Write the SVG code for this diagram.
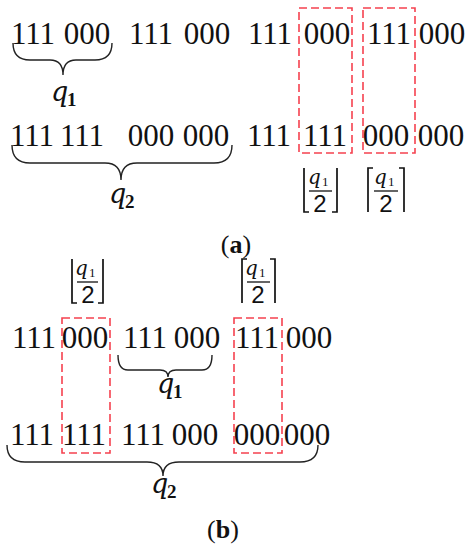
<svg xmlns="http://www.w3.org/2000/svg" width="472" height="550" viewBox="0 0 472 550">
<style>
.d{font-family:"Liberation Serif",serif;font-size:31px;fill:#111;text-anchor:middle}
.q{font-family:"DejaVu Serif","Liberation Serif",serif;font-style:italic;font-size:27px;fill:#111}
.qs{font-family:"Liberation Serif",serif;font-weight:bold;font-size:19px;fill:#111}
.fq{font-family:"DejaVu Serif","Liberation Serif",serif;font-style:italic;font-size:20px;fill:#111}
.fs{font-family:"Liberation Serif",serif;font-size:13px;fill:#111}
.f2{font-family:"Liberation Sans",sans-serif;font-size:24px;fill:#111;text-anchor:middle}
.br{fill:none;stroke:#222;stroke-width:1.4}
.bk{fill:none;stroke:#111;stroke-width:1.7}
.red{fill:none;stroke:#f5414f;stroke-width:1.6;stroke-dasharray:8 4}
.cap{font-family:"Liberation Serif",serif;font-size:26px;fill:#111;text-anchor:middle}
</style>
<g id="part-a">
<g id="a-row1">
<text class="d" x="33" y="44">111</text><text class="d" x="87" y="44">000</text>
<text class="d" x="151" y="44">111</text><text class="d" x="207" y="44">000</text>
<text class="d" x="270" y="44">111</text><text class="d" x="327" y="44">000</text>
<text class="d" x="389" y="44">111</text><text class="d" x="442" y="44">000</text>
</g>
<g id="a-row2">
<text class="d" x="32" y="146">111</text><text class="d" x="82" y="146">111</text>
<text class="d" x="151" y="146">000</text><text class="d" x="206" y="146">000</text>
<text class="d" x="269" y="146">111</text><text class="d" x="325" y="146">111</text>
<text class="d" x="386" y="146">000</text><text class="d" x="441" y="146">000</text>
</g>
<g id="a-boxes">
<rect class="red" x="299" y="8" width="53" height="145"/>
<rect class="red" x="363" y="8" width="52" height="145"/>
</g>
<g id="a-brace-q1">
<path class="br" d="M13,43 Q13,60 30,60 L50,60 Q63,60 63,75 Q63,60 76,60 L95,60 Q112,60 112,43"/>
<text class="q" x="51" y="101">q</text><text class="qs" x="67" y="106">1</text>
</g>
<g id="a-brace-q2">
<path class="br" d="M12,145 Q12,163 30,163 L105,163 Q121,163 121,180 Q121,163 137,163 L214,163 Q232,163 232,145"/>
<text class="q" x="109" y="203">q</text><text class="qs" x="125" y="208">2</text>
</g>
<g id="a-floor">
<path class="bk" d="M304,168 L304,212 L309,212 M337,168 L337,212 L332,212"/>
<text class="fq" x="308" y="184">q</text><text class="fs" x="322" y="186">1</text>
<line x1="309" y1="191" x2="332" y2="191" stroke="#111" stroke-width="1.3"/>
<text class="f2" x="320" y="212">2</text>
</g>
<g id="a-ceil">
<path class="bk" d="M373,168 L368,168 L368,212 M399,168 L404,168 L404,212"/>
<text class="fq" x="374" y="184">q</text><text class="fs" x="388" y="186">1</text>
<line x1="374" y1="191" x2="398" y2="191" stroke="#111" stroke-width="1.3"/>
<text class="f2" x="386" y="212">2</text>
</g>
<text class="cap" x="236" y="253">(<tspan font-weight="bold">a</tspan>)</text>
</g>
<g id="part-b">
<g id="b-floor">
<path class="bk" d="M72,259 L72,303 L77,303 M103,259 L103,303 L98,303"/>
<text class="fq" x="75" y="275">q</text><text class="fs" x="89" y="277">1</text>
<line x1="77" y1="282" x2="98" y2="282" stroke="#111" stroke-width="1.3"/>
<text class="f2" x="88" y="303">2</text>
</g>
<g id="b-ceil">
<path class="bk" d="M247,259 L242,259 L242,303 M270,259 L275,259 L275,303"/>
<text class="fq" x="245" y="275">q</text><text class="fs" x="259" y="277">1</text>
<line x1="247" y1="282" x2="270" y2="282" stroke="#111" stroke-width="1.3"/>
<text class="f2" x="258" y="303">2</text>
</g>
<g id="b-row1">
<text class="d" x="34" y="348">111</text><text class="d" x="85" y="348">000</text>
<text class="d" x="145" y="348">111</text><text class="d" x="197" y="348">000</text>
<text class="d" x="257" y="348">111</text><text class="d" x="309" y="348">000</text>
</g>
<g id="b-row2">
<text class="d" x="32" y="445">111</text><text class="d" x="84" y="445">111</text>
<text class="d" x="143" y="445">111</text><text class="d" x="195" y="445">000</text>
<text class="d" x="257" y="445">000</text><text class="d" x="307" y="445">000</text>
</g>
<g id="b-boxes">
<rect class="red" x="62" y="318" width="48" height="135"/>
<rect class="red" x="234" y="318" width="48" height="135"/>
</g>
<g id="b-brace-q1">
<path class="br" d="M118,355 Q118,370 128,370 L160,370 Q168,370 168,377 Q168,370 176,370 L202,370 Q212,370 212,355"/>
<text class="q" x="157" y="393">q</text><text class="qs" x="173" y="398">1</text>
</g>
<g id="b-brace-q2">
<path class="br" d="M7,445 Q7,462 25,462 L147,462 Q163,462 163,476 Q163,462 179,462 L300,462 Q318,462 318,445"/>
<text class="q" x="151" y="493">q</text><text class="qs" x="167" y="498">2</text>
</g>
<text class="cap" x="223" y="538">(<tspan font-weight="bold">b</tspan>)</text>
</g>
</svg>
